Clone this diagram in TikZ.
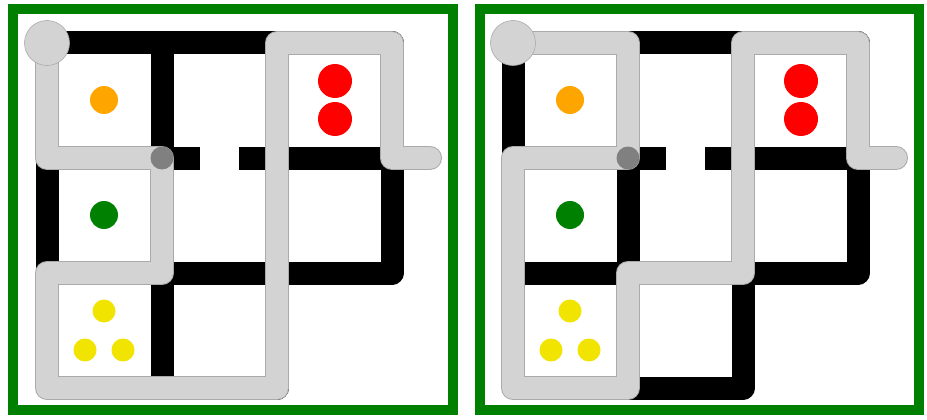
\documentclass[tikz,border=0pt]{standalone}
\definecolor{frame}{RGB}{0,128,0}
\definecolor{routefill}{RGB}{211,211,211}
\definecolor{routeedge}{RGB}{170,170,170}
\definecolor{dotgray}{RGB}{128,128,128}
\definecolor{orng}{RGB}{255,165,0}
\definecolor{grn}{RGB}{0,128,0}
\definecolor{rd}{RGB}{255,0,0}
\definecolor{ylw}{RGB}{240,228,0}
\tikzset{
  wall/.style={line width=23pt, black, line join=round, line cap=butt},
  routeout/.style={line width=24pt, routeedge, line join=round, line cap=round},
  routein/.style={line width=22pt, routefill, line join=round, line cap=round},
  border/.style={line width=10pt, frame},
  coin/.style={circle, inner sep=0pt, minimum size=#1, draw=none},
}
\newcommand{\mazewalls}{%
  \draw[wall] (47,388) -- (47,43) -- (392,43) -- (392,273) -- (47,273);
  \draw[wall] (162,43) -- (162,388);
  \draw[wall] (47,158) -- (200,158);
  \draw[wall] (239,158) -- (392,158);
  \draw[wall] (277,43) -- (277,388) -- (47,388);
}
\newcommand{\mazeitems}{%
  \node[coin=28pt, fill=orng] (o) at (104,100) {};
  \node[coin=28pt, fill=grn] (g) at (104,215) {};
  \node[coin=34pt, fill=rd] (r1) at (335,81) {};
  \node[coin=34pt, fill=rd] (r2) at (335,119) {};
  \node[coin=23pt, fill=ylw] (y1) at (104,311) {};
  \node[coin=23pt, fill=ylw] (y2) at (85,350) {};
  \node[coin=23pt, fill=ylw] (y3) at (123,350) {};
}
\newcommand{\mazemarks}{%
  \node[circle, inner sep=0pt, minimum size=45pt, fill=routefill, draw=routeedge, line width=0.6pt] (start) at (47,43) {};
  \node[circle, inner sep=0pt, minimum size=23pt, fill=dotgray] (key) at (162,158) {};
}
\begin{document}
\begin{tikzpicture}[x=1pt, y=-1pt]
\fill[white] (0,0) rectangle (927,420);
\useasboundingbox (0,0) rectangle (927,420);
\draw[border] (13,9) rectangle (453,410);
\draw[border] (480,9) rectangle (919,410);
% left panel
\begin{scope}
  \mazewalls
  \mazeitems
  \def\routeL{(47,43) -- (47,158) -- (162,158) -- (162,273) -- (47,273) -- (47,388) -- (277,388) -- (277,43) -- (392,43) -- (392,158) -- (430,158)}
  \draw[routeout] (47,43) -- (47,158) -- (162,158) -- (162,273) -- (47,273) -- (47,388) -- (277,388) -- (277,43) -- (392,43) -- (392,158) -- (430,158);
  \draw[routein] (47,43) -- (47,158) -- (162,158) -- (162,273) -- (47,273) -- (47,388) -- (277,388) -- (277,43) -- (392,43) -- (392,158) -- (430,158);
  \mazemarks
\end{scope}
% right panel
\begin{scope}[xshift=466pt]
  \mazewalls
  \mazeitems
  \draw[routeout] (47,43) -- (162,43) -- (162,158) -- (47,158) -- (47,388) -- (162,388) -- (162,273) -- (277,273) -- (277,43) -- (392,43) -- (392,158) -- (430,158);
  \draw[routein] (47,43) -- (162,43) -- (162,158) -- (47,158) -- (47,388) -- (162,388) -- (162,273) -- (277,273) -- (277,43) -- (392,43) -- (392,158) -- (430,158);
  \mazemarks
\end{scope}
\end{tikzpicture}
\end{document}
